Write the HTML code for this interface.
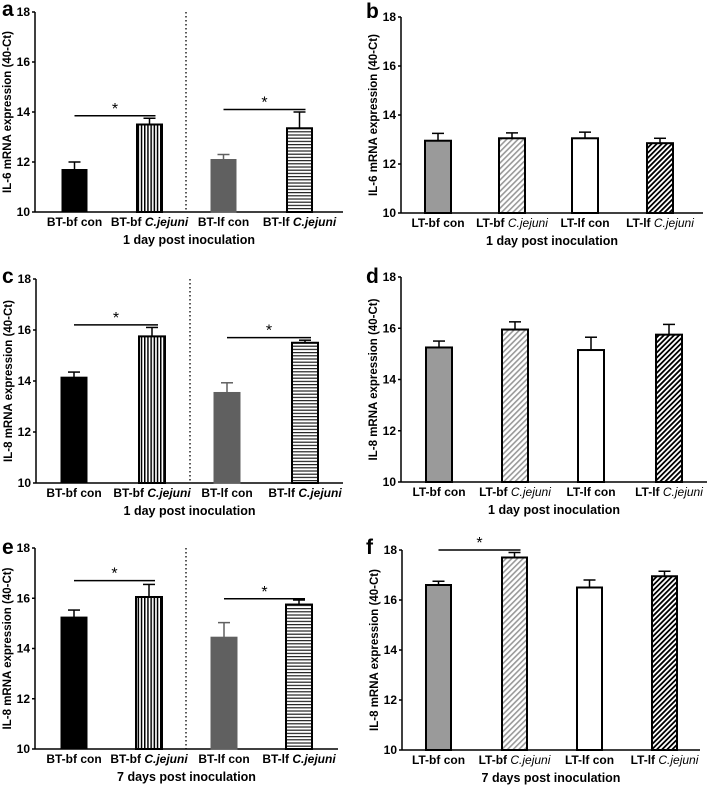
<!DOCTYPE html>
<html><head><meta charset="utf-8"><style>
html,body{margin:0;padding:0;background:#fff}
svg{display:block;font-family:"Liberation Sans",Arial,sans-serif}
</style></head><body>
<svg id="fig" width="709" height="788" viewBox="0 0 709 788">
<defs>
<pattern id="pv" width="3.2" height="4" patternUnits="userSpaceOnUse"><rect width="3.2" height="4" fill="#fff"/><rect width="1.5" height="4" fill="#000"/></pattern>
<pattern id="ph" width="4" height="3.2" patternUnits="userSpaceOnUse"><rect width="4" height="3.2" fill="#fff"/><rect width="4" height="1.2" fill="#222"/></pattern>
<pattern id="pdl" width="4" height="4" patternUnits="userSpaceOnUse" patternTransform="rotate(45)"><rect width="4" height="4" fill="#fff"/><rect width="1.6" height="4" fill="#999"/></pattern>
<pattern id="pdd" width="3.6" height="3.6" patternUnits="userSpaceOnUse" patternTransform="rotate(45)"><rect width="3.6" height="3.6" fill="#fff"/><rect width="1.8" height="3.6" fill="#000"/></pattern>
</defs>
</svg>
<script>
// data arrays
const catsBT = ["BT-bf con","BT-bf C.jejuni","BT-lf con","BT-lf C.jejuni"];
const catsLT = ["LT-bf con","LT-bf C.jejuni","LT-lf con","LT-lf C.jejuni"];
const yTicks = [10,12,14,16,18];
const valuesA = [11.7,13.5,12.1,13.35];
const errorsA = [0.3,0.25,0.2,0.65];
const valuesB = [12.95,13.05,13.05,12.85];
const errorsB = [0.3,0.22,0.25,0.2];
const valuesC = [14.15,15.75,13.55,15.5];
const errorsC = [0.2,0.35,0.38,0.1];
const valuesD = [15.25,15.95,15.15,15.75];
const errorsD = [0.25,0.3,0.5,0.4];
const valuesE = [15.25,16.05,14.45,15.75];
const errorsE = [0.28,0.5,0.58,0.18];
const valuesF = [16.6,17.7,16.5,16.95];
const errorsF = [0.15,0.2,0.3,0.2];
const sigA = [[0,1,13.85],[2,3,14.1]];
const sigC = [[0,1,16.2],[2,3,15.7]];
const sigE = [[0,1,16.7],[2,3,15.98]];
const sigF = [[0,1,18.0]];
const sigNone = [];

const NS="http://www.w3.org/2000/svg";
const svg=document.getElementById('fig');
function mk(tag,attrs,parent){const e=document.createElementNS(NS,tag);for(const k in attrs)e.setAttribute(k,attrs[k]);(parent||svg).appendChild(e);return e;}

const fillsBT=["#000","url(#pv)","#606060","url(#ph)"];
const fillsLT=["#9a9a9a","url(#pdl)","#fff","url(#pdd)"];

const panels=[
 {id:"a",ax:35,top:12,bot:212,right:343,bars:[62,137,211,287],bw:25,vals:valuesA,errs:errorsA,sig:sigA,cats:catsBT,fills:fillsBT,div:186,yt:"IL-6 mRNA expression (40-Ct)",xt:"1 day post inoculation",lx:2,ly:16},
 {id:"b",ax:401,top:17,bot:213,right:703,bars:[425,499,572,647],bw:26,vals:valuesB,errs:errorsB,sig:sigNone,cats:catsLT,fills:fillsLT,div:null,yt:"IL-6 mRNA expression (40-Ct)",xt:"1 day post inoculation",lx:366,ly:18},
 {id:"c",ax:36,top:279,bot:483,right:343,bars:[61,139,214,292],bw:26,vals:valuesC,errs:errorsC,sig:sigC,cats:catsBT,fills:fillsBT,div:190,yt:"IL-8 mRNA expression (40-Ct)",xt:"1 day post inoculation",lx:2,ly:283},
 {id:"d",ax:401,top:277,bot:482,right:707,bars:[426,502,578,656],bw:26,vals:valuesD,errs:errorsD,sig:sigNone,cats:catsLT,fills:fillsLT,div:null,yt:"IL-8 mRNA expression (40-Ct)",xt:"1 day post inoculation",lx:366,ly:283},
 {id:"e",ax:35,top:548,bot:749,right:338,bars:[61,136,211,286],bw:26,vals:valuesE,errs:errorsE,sig:sigE,cats:catsBT,fills:fillsBT,div:186,yt:"IL-8 mRNA expression (40-Ct)",xt:"7 days post inoculation",lx:2,ly:554},
 {id:"f",ax:402,top:550,bot:750,right:700,bars:[426,502,577,652],bw:25,vals:valuesF,errs:errorsF,sig:sigF,cats:catsLT,fills:fillsLT,div:null,yt:"IL-8 mRNA expression (40-Ct)",xt:"7 days post inoculation",lx:366,ly:554}
];

panels.forEach(p=>{
 const g=mk('g',{});
 
 
 const y=v=>p.bot-(v-10)/(8)*(p.bot-p.top);
 const lab=mk('text',{x:p.lx,y:p.ly,'font-size':21,'font-weight':'bold'},g);lab.textContent=p.id;
 
 
 const ya=mk('line',{x1:p.ax,y1:p.top,x2:p.ax,y2:p.bot,stroke:'#000','stroke-width':1.5},g);
 
 
 const xa=mk('line',{x1:p.ax,y1:p.bot,x2:p.right,y2:p.bot,stroke:'#000','stroke-width':1.5},g);
 
 
 yTicks.forEach(t=>{
  mk('line',{x1:p.ax-3,y1:y(t),x2:p.ax,y2:y(t),stroke:'#000','stroke-width':1.5},g);
  const tt=mk('text',{x:p.ax-5,y:y(t)+4,'font-size':12,'font-weight':'bold','text-anchor':'end'},g);tt.textContent=t;
  
  
 });
 const ytl=mk('text',{x:0,y:0,'font-size':11.5,'font-weight':'bold','text-anchor':'middle',transform:`translate(${p.ax-24},${(p.top+p.bot)/2}) rotate(-90)`},g);
 ytl.textContent=p.yt;
 
 
 const xtl=mk('text',{x:(p.ax+p.right)/2,y:p.bot+32,'font-size':12.5,'font-weight':'bold','text-anchor':'middle'},g);
 xtl.textContent=p.xt;
 
 
 if(p.div){const d=mk('line',{x1:p.div,y1:p.top,x2:p.div,y2:p.bot,stroke:'#000','stroke-width':1.3,'stroke-dasharray':'1.5,2.5'},g);
  
  }
 p.vals.forEach((v,i)=>{
  const x=p.bars[i],cx=x+p.bw/2,e=p.errs[i];
  const col=p.fills[i]==="#606060"?"#606060":'#000';
  mk('line',{x1:cx,y1:y(v),x2:cx,y2:y(v+e),stroke:col,'stroke-width':1.5},g);
  mk('line',{x1:cx-6,y1:y(v+e),x2:cx+6,y2:y(v+e),stroke:col,'stroke-width':1.5},g);
  const solid=p.fills[i]==="#000"||p.fills[i]==="#606060";
  const r=mk('rect',{x:x,y:y(v),width:p.bw,height:p.bot-y(v),fill:p.fills[i],stroke:col,'stroke-width':solid?1:2},g);
  
  
  const c=p.cats[i],parts=c.split(' ');
  const t=mk('text',{x:cx,y:p.bot+14,'font-size':12,'font-weight':'bold','text-anchor':'middle'},g);
  
  
  const s1=mk('tspan',{},t);s1.textContent=parts[0]+' ';
  const s2=mk('tspan',{},t);s2.textContent=parts[1];
  if(parts[1]==="C.jejuni"){s2.setAttribute('font-style','italic');if(p.cats===catsLT)s2.setAttribute('font-weight','normal');}
 });
 p.sig.forEach(s=>{
  const x1=p.bars[s[0]]+p.bw/2,x2=p.bars[s[1]]+p.bw/2+6,yy=y(s[2]);
  const l=mk('line',{x1:x1,y1:yy,x2:x2,y2:yy,stroke:'#000','stroke-width':1.5},g);
  
  
  const st=mk('text',{x:(x1+x2)/2,y:yy-2,'font-size':16,'text-anchor':'middle'},g);st.textContent='*';
  
  
 });
});
</script>
</body></html>
